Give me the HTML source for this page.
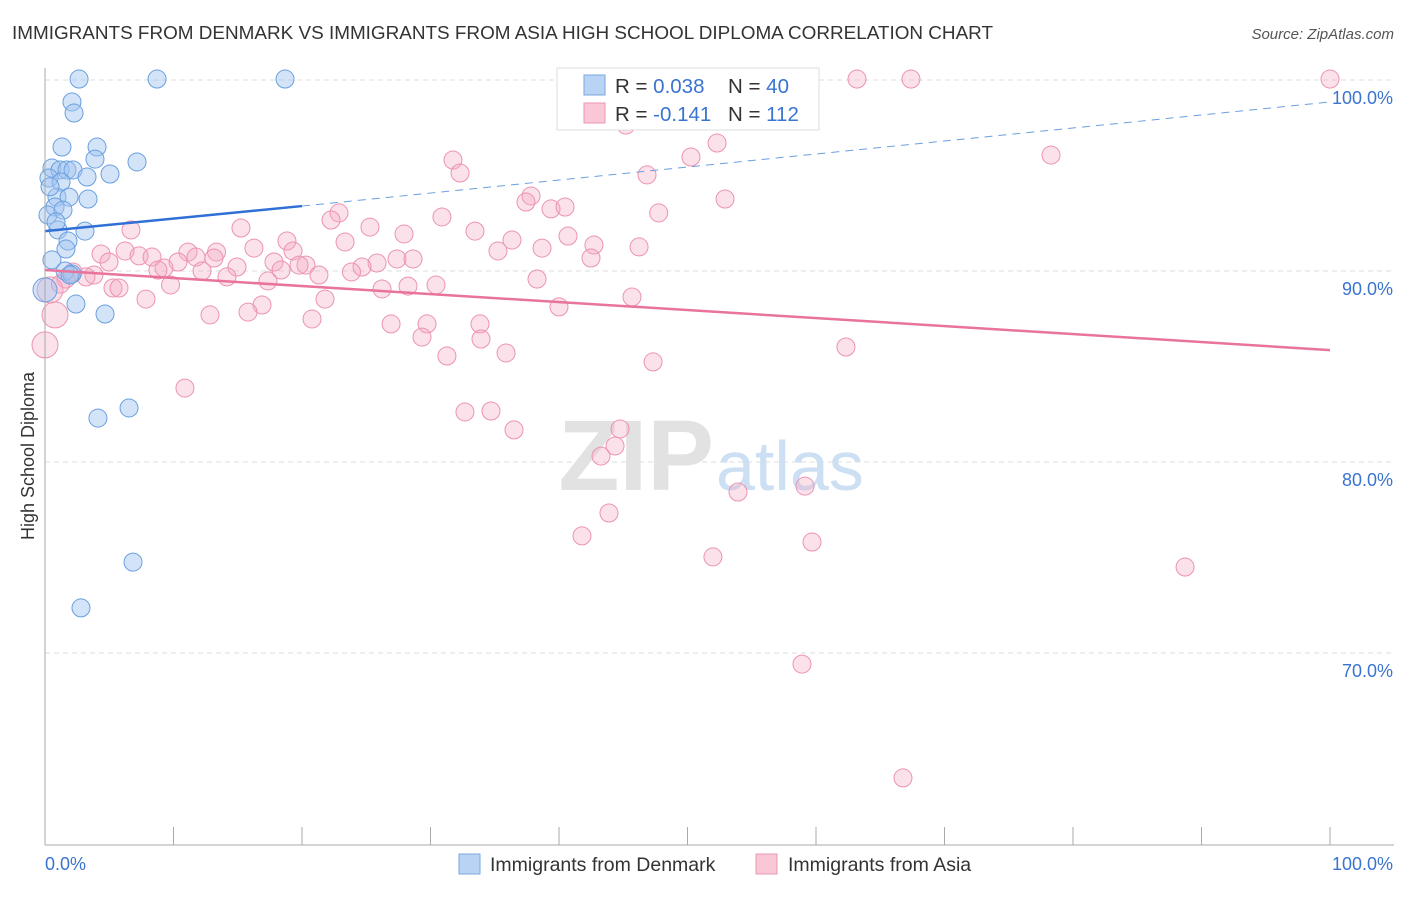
<!DOCTYPE html>
<html><head><meta charset="utf-8"><style>
body{margin:0;background:#fff;font-family:"Liberation Sans",sans-serif}
svg text{font-family:"Liberation Sans",sans-serif}
</style></head><body>
<svg id="chart" width="1406" height="892" xmlns="http://www.w3.org/2000/svg">
<text x="12" y="39" font-size="18.9" fill="#333">IMMIGRANTS FROM DENMARK VS IMMIGRANTS FROM ASIA HIGH SCHOOL DIPLOMA CORRELATION CHART</text>
<text x="1394" y="39" font-size="15" fill="#555" text-anchor="end" font-style="italic">Source: ZipAtlas.com</text>
<g id="grid"></g>
<text x="714" y="490" font-size="100" fill="#e2e2e2" text-anchor="end" font-family="Liberation Serif" font-weight="bold">ZIP</text>
<text x="716" y="490" font-size="70" fill="#cddff3">atlas</text>
<g id="marks"></g>
<line x1="45" y1="68" x2="45" y2="845" stroke="#aaa"/>
<line x1="45" y1="845" x2="1394" y2="845" stroke="#aaa"/>
<g id="axes"></g>
<text x="34" y="456" font-size="18" fill="#333" text-anchor="middle" transform="rotate(-90 34 456)">High School Diploma</text>
<g>
<rect x="557" y="68" width="262" height="62" fill="#fff" stroke="#ddd"/>
<rect x="584" y="75" width="21" height="20" fill="#b9d3f4" stroke="#7aa7e0"/>
<rect x="584" y="103" width="21" height="20" fill="#f9c7d6" stroke="#eb97b2"/>
<text x="615" y="93" font-size="20.5" fill="#333">R = <tspan fill="#3a74d0">0.038</tspan></text>
<text x="728" y="93" font-size="20.5" fill="#333">N = <tspan fill="#3a74d0">40</tspan></text>
<text x="615" y="121" font-size="20.5" fill="#333">R = <tspan fill="#3a74d0">-0.141</tspan></text>
<text x="728" y="121" font-size="20.5" fill="#333">N = <tspan fill="#3a74d0">112</tspan></text>
</g>
<g>
<rect x="459" y="854" width="21" height="20" fill="#b9d3f4" stroke="#7aa7e0"/>
<text x="490" y="871" font-size="19.5" fill="#333">Immigrants from Denmark</text>
<rect x="756" y="854" width="21" height="20" fill="#f9c7d6" stroke="#eb97b2"/>
<text x="788" y="871" font-size="19.5" fill="#333">Immigrants from Asia</text>
</g>
</svg>
<script>
const yTicks=[100,90,80,70];
const yTickLabels=["100.0%","90.0%","80.0%","70.0%"];
const xTickLabels=["0.0%","100.0%"];
const denX=[2.65,8.72,18.68,2.10,2.26,1.32,4.05,3.89,7.16,0.54,1.17,1.71,2.18,0.31,1.25,3.27,5.06,0.93,1.87,3.35,0.78,0.23,3.11,1.01,1.79,1.63,0.54,1.56,2.10,2.41,4.67,4.12,6.54,6.85,2.80,0.39,1.40,1.95,0.86,0.0];
const denY=[100.94,100.94,100.94,99.74,99.16,97.38,97.38,96.75,96.60,96.28,96.18,96.18,96.18,95.76,95.55,95.81,95.97,94.76,94.76,94.66,94.24,93.82,92.98,93.04,92.46,92.04,91.47,90.89,90.73,89.16,88.64,83.19,83.72,75.65,73.25,95.3,94.08,90.68,93.46,89.9];
const asiaX=[100,63.19,67.39,45.21,53.46,78.29,52.30,50.27,31.75,32.30,46.85,37.82,37.43,39.38,40.47,47.76,52.92,30.89,22.88,22.26,25.29,15.25,6.69,33.46,27.94,36.34,40.70,23.35,18.83,42.72,38.68,46.23,35.25,19.30,16.26,6.23,11.13,13.35,4.36,7.32,8.33,10.35,11.75,13.15,42.49,27.39,28.64,17.82,20.31,25.84,24.67,23.85,14.94,4.98,9.26,8.79,12.22,18.37,19.77,21.32,14.16,17.35,38.29,3.81,2.18,3.19,1.63,5.29,5.76,9.77,26.23,28.25,30.43,45.68,21.79,7.86,16.89,15.80,40.00,12.84,20.78,26.93,29.73,33.85,29.34,33.93,35.88,31.28,62.33,47.32,10.89,32.68,34.71,36.50,44.75,44.36,43.27,53.93,59.14,43.89,41.79,51.98,59.69,88.72,58.91,66.77,0,0.78,0.39,1.2];
const asiaY=[100.94,100.94,100.94,98.53,99.63,96.96,97.59,96.86,96.70,96.02,95.92,94.82,94.50,94.14,94.24,93.93,94.66,93.72,93.93,93.56,93.19,93.14,93.04,92.98,92.83,92.51,92.72,92.41,92.46,92.25,92.09,92.15,91.94,91.94,92.09,91.94,91.88,91.88,91.78,91.68,91.62,91.36,91.62,91.57,91.57,91.52,91.52,91.36,91.20,91.31,91.10,90.84,91.10,91.36,91.05,90.94,90.89,90.94,91.20,90.68,90.58,90.37,90.47,90.68,90.84,90.58,90.47,90.00,90.00,90.16,89.95,90.10,90.16,89.53,89.42,89.42,89.11,88.74,89.01,88.59,88.38,88.12,88.12,88.12,87.43,87.33,86.60,86.44,86.91,86.13,84.76,83.51,83.56,82.57,82.62,81.73,81.20,79.32,79.63,78.22,77.02,75.92,76.70,75.39,70.31,64.35,87.02,88.59,89.9,90.2];
const asiaBig=[106,107,108];
const denTrend=[[0,92.98],[20,94.29]];
const denTrendExt=[[20,94.29],[100,99.74]];
const asiaTrend=[[0,90.94],[100,86.75]];
const X=v=>45+v*12.85, Y=v=>97+(100-v)*19.1;
const NS="http://www.w3.org/2000/svg";
function mk(t,a,p){const e=document.createElementNS(NS,t);for(const k in a)e.setAttribute(k,a[k]);p.appendChild(e);return e;}
const grid=document.getElementById('grid'),axes=document.getElementById('axes'),marks=document.getElementById('marks');
yTicks.forEach((t,i)=>{const l=mk('line',{x1:45,x2:1394,y1:Y(t)-17,y2:Y(t)-17,stroke:'#ddd','stroke-dasharray':'5,4'},grid);


const tx=mk('text',{x:1393,y:Y(t)+7,'font-size':18,fill:'#3a74d0','text-anchor':'end'},axes);tx.textContent=yTickLabels[i];

});
for(let i=0;i<=10;i++){const t=mk('line',{x1:X(i*10),x2:X(i*10),y1:827,y2:845,stroke:'#aaa'},axes);

}
const xl0=mk('text',{x:45,y:870,'font-size':18,fill:'#3a74d0'},axes);xl0.textContent=xTickLabels[0];


const xl1=mk('text',{x:1393,y:870,'font-size':18,fill:'#3a74d0','text-anchor':'end'},axes);xl1.textContent=xTickLabels[1];


asiaX.forEach((x,i)=>{const big=asiaBig.includes(i);const c=mk('circle',{cx:X(x),cy:Y(asiaY[i]),r:big?13:9,fill:'rgba(244,170,195,0.35)',stroke:'#ec93b1','stroke-width':1},marks);

});
denX.forEach((x,i)=>{const c=mk('circle',{cx:X(x),cy:Y(denY[i]),r:i==39?12:9,fill:'rgba(160,196,240,0.45)',stroke:'#6a9fe0','stroke-width':1},marks);

});
const l1=mk('line',{x1:X(denTrend[0][0]),y1:Y(denTrend[0][1]),x2:X(denTrend[1][0]),y2:Y(denTrend[1][1]),stroke:'#2f6fd6','stroke-width':2.5},marks);


const l2=mk('line',{x1:X(denTrendExt[0][0]),y1:Y(denTrendExt[0][1]),x2:X(denTrendExt[1][0]),y2:Y(denTrendExt[1][1]),stroke:'#6a9fe0','stroke-width':1,'stroke-dasharray':'8,6'},marks);


const l3=mk('line',{x1:X(asiaTrend[0][0]),y1:Y(asiaTrend[0][1]),x2:X(asiaTrend[1][0]),y2:Y(asiaTrend[1][1]),stroke:'#e8739c','stroke-width':2.5},marks);


</script>
</body></html>
